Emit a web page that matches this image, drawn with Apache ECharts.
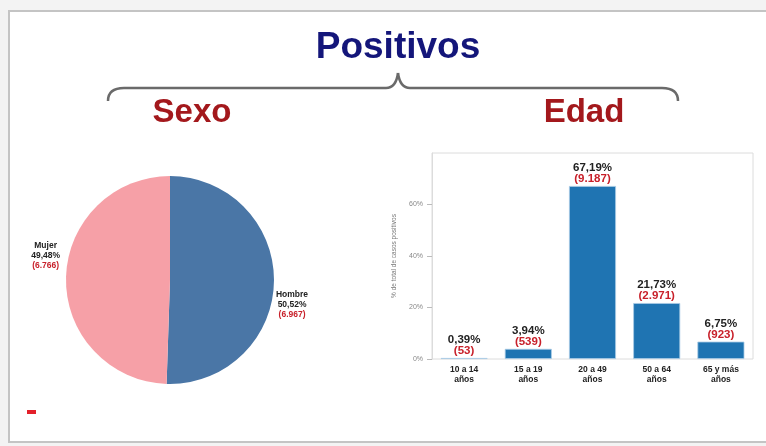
<!DOCTYPE html>
<html><head><meta charset="utf-8">
<script src="https://cdn.jsdelivr.net/npm/echarts@6/dist/echarts.min.js"></script>
<style>html,body{margin:0;padding:0;background:#fff}#c{width:766px;height:446px}</style>
</head><body><div id="c"></div>
<script>
// ---- data ----
var sexCategories = ['Hombre', 'Mujer'];
var sexPercent = [50.52, 49.48];
var sexCount = [6967, 6766];
var ageCategories = ['10 a 14\naños', '15 a 19\naños', '20 a 49\naños', '50 a 64\naños', '65 y más\naños'];
var agePercent = [0.39, 3.94, 67.19, 21.73, 6.75];
var ageCount = [53, 539, 9187, 2971, 923];
var yTicks = [0, 20, 40, 60];

function pct(v){ return v.toFixed(2).replace('.', ',') + '%'; }
function cnt(v){ return String(v).replace(/\B(?=(\d{3})+(?!\d))/g, '.'); }

var chart = echarts.init(document.getElementById('c'), null, {renderer:'canvas'});
var F = "'Liberation Sans', Arial, sans-serif";
var FN = "'Liberation Sans Narrow', 'Liberation Sans', Arial, sans-serif";
var braceStyle = {fill:null, stroke:'#6a6a6a', lineWidth:2.5};

var option = {
  backgroundColor: '#f3f3f3',
  animation: false,
  graphic: [
    {type:'rect', z:-10, shape:{x:9, y:11, width:780, height:431}, style:{fill:'#fff', stroke:'#c4c4c4', lineWidth:2}},
    {type:'text', style:{x:398, y:48, text:'Positivos', fill:'#14167a', font:"bold 37px "+FN, textAlign:'center', textVerticalAlign:'middle'}},
    {type:'bezierCurve', shape:{x1:108, y1:101, x2:124, y2:88, cpx1:108, cpy1:88}, style:braceStyle},
    {type:'line', shape:{x1:124, y1:88, x2:386, y2:88}, style:braceStyle},
    {type:'bezierCurve', shape:{x1:386, y1:88, x2:398, y2:73, cpx1:396, cpy1:88}, style:braceStyle},
    {type:'bezierCurve', shape:{x1:398, y1:73, x2:410, y2:88, cpx1:400, cpy1:88}, style:braceStyle},
    {type:'line', shape:{x1:410, y1:88, x2:662, y2:88}, style:braceStyle},
    {type:'bezierCurve', shape:{x1:662, y1:88, x2:678, y2:101, cpx1:678, cpy1:88}, style:braceStyle},
    {type:'text', style:{x:192, y:113, text:'Sexo', fill:'#a3181c', font:"bold 33px "+FN, textAlign:'center', textVerticalAlign:'middle'}},
    {type:'text', style:{x:584, y:113, text:'Edad', fill:'#a3181c', font:"bold 33px "+FN, textAlign:'center', textVerticalAlign:'middle'}},
    {type:'rect', shape:{x:27, y:410, width:9, height:4}, style:{fill:'#e3202a'}}
  ],
  grid: {left:432, right:13, top:153, bottom:87, show:true, borderColor:'#dcdcdc', borderWidth:1},
  xAxis: {
    type:'category', data: ageCategories,
    axisLine:{show:false}, axisTick:{show:false},
    axisLabel:{color:'#222', fontFamily:F, fontSize:8.5, fontWeight:'bold', lineHeight:9.5, margin:6, interval:0}
  },
  yAxis: {
    type:'value', min:0, max:80, interval:20,
    name:'% de total de casos positivos', nameLocation:'middle', nameGap:34, nameRotate:90,
    nameTextStyle:{color:'#777', fontSize:6.5, fontFamily:F},
    axisLine:{show:true, lineStyle:{color:'#dcdcdc'}},
    axisTick:{show:true, length:5, customValues:yTicks, lineStyle:{color:'#bbb'}},
    splitLine:{show:false},
    axisLabel:{color:'#888', fontSize:7, fontFamily:F, margin:9, customValues:yTicks,
      formatter:function(v){ return v + '%'; }}
  },
  series: [
    {
      type:'bar', data: agePercent, barWidth:47,
      itemStyle:{color:'#1f74b2', borderColor:'#a9cbe6', borderWidth:0.8},
      label:{show:true, position:'top', distance:1,
        formatter:function(p){ return '{a|' + pct(p.value) + '}\n{b|(' + cnt(ageCount[p.dataIndex]) + ')}'; },
        rich:{
          a:{color:'#222', fontSize:11.5, fontWeight:'bold', fontFamily:F, lineHeight:11.5, align:'center'},
          b:{color:'#c8202a', fontSize:11.5, fontWeight:'bold', fontFamily:F, lineHeight:11.5, align:'center'}
        }}
    },
    {
      type:'pie', center:[170, 280], radius:[0, 104], startAngle:90, clockwise:true,
      data: sexCategories.map(function(n,i){ return {name:n, value:sexPercent[i]}; }),
      color:['#4a76a6', '#f6a0a7'],
      itemStyle:{borderColor:'#fff', borderWidth:0},
      labelLine:{show:false, length:1, length2:0},
      label:{show:true, position:'outside',
        formatter:function(p){ return '{n|' + p.name + '}\n{n|' + pct(p.value) + '}\n{r|(' + cnt(sexCount[p.dataIndex]) + ')}'; },
        rich:{
          n:{color:'#222', fontSize:8.5, fontFamily:F, fontWeight:'bold', lineHeight:10, align:'center'},
          r:{color:'#c8202a', fontSize:8.5, fontFamily:F, fontWeight:'bold', lineHeight:10, align:'center'}
        }},
      labelLayout:function(p){
        return p.dataIndex === 0 ? {dx:-4, dy:23} : {dy:-23};
      },
      emphasis:{disabled:true}
    }
  ]
};
chart.setOption(option);
</script></body></html>
